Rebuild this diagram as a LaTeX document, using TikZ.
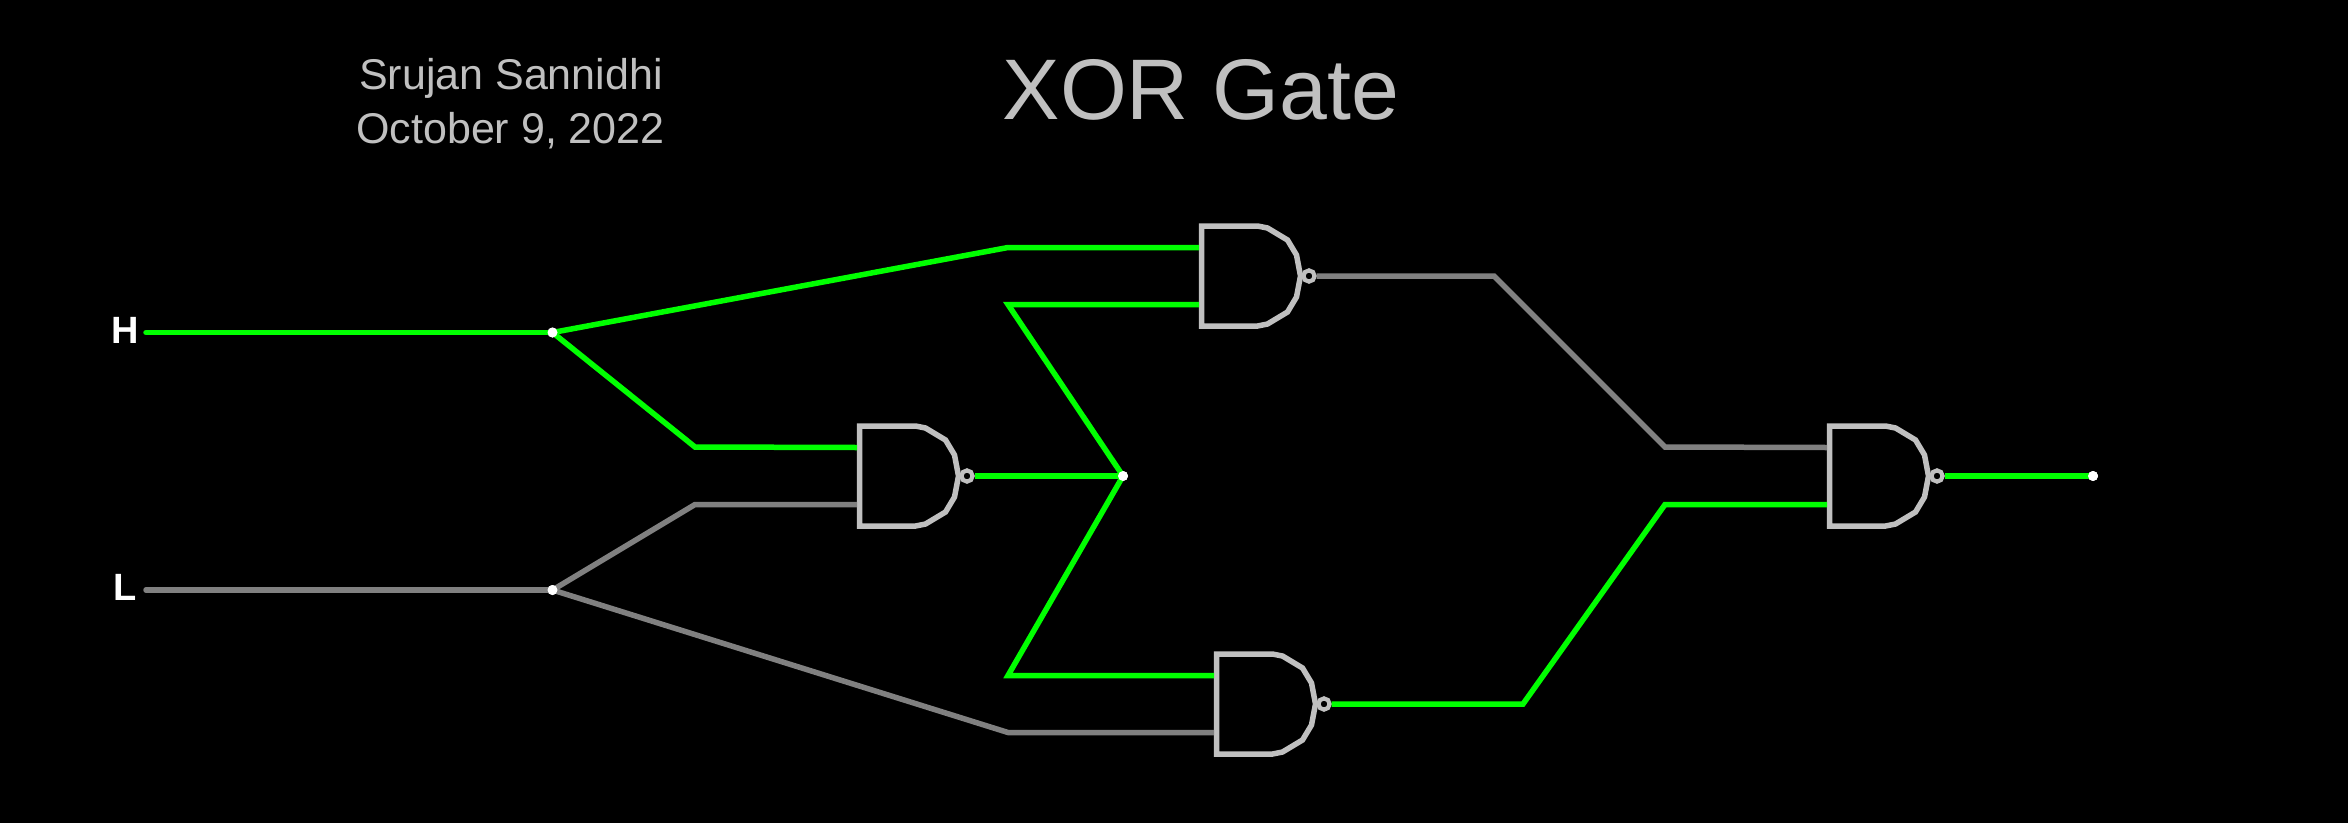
\documentclass[tikz,border=0pt]{standalone}
\usepackage{fontspec}
\setmainfont{Liberation Sans}
\definecolor{wireon}{HTML}{00FF00}
\definecolor{wireoff}{HTML}{808080}
\definecolor{gatecol}{HTML}{C0C0C0}

\tikzset{
  pics/nandgate/.style={code={
    \draw[gatecol,line width=5.5pt,fill=black] (0,-50) -- (56,-50) -- (66,-48) -- (86,-36) -- (95,-21) -- (99,0)
      -- (95,21) -- (86,36) -- (66,48) -- (56,50) -- (0,50) -- cycle;
    \draw[gatecol,line width=4.2pt] (107.5,0) circle (5.6pt);
    \coordinate (-a) at (-2.5,-28.5);
    \coordinate (-b) at (-2.5,28.5);
    \coordinate (-o) at (115,0);
  }}
}

\begin{document}
\begin{tikzpicture}[x=1pt,y=-1pt]
\tikzstyle{on}=[wireon,line width=5.5pt]
\tikzstyle{off}=[wireoff,line width=5.5pt]
\tikzstyle{dot}=[circle,fill=white,inner sep=0pt,minimum size=10pt]
\tikzstyle{txt}=[text=gatecol,anchor=base,inner sep=0pt]
\tikzstyle{pin}=[text=white,anchor=base,inner sep=0pt,font=\fontsize{38}{38}\selectfont\bfseries]

\useasboundingbox (0,0) rectangle (2348,822);
\fill[black] (-5,-5) rectangle (2353,827);

\node[txt,font=\fontsize{86}{86}\selectfont] (title) at (1201,119) {XOR Gate};
\node[txt,font=\fontsize{43}{43}\selectfont] (name) at (511,89) {Srujan Sannidhi};
\node[txt,font=\fontsize{43}{43}\selectfont] (date) at (510.5,143) {October 9, 2022};
\node[pin] (h) at (125,343.5) {H};
\node[pin] (l) at (125,600) {L};

\pic (g1) at (859.5,476) {nandgate};
\pic (g2) at (1201.5,276) {nandgate};
\pic (g3) at (1216.5,704) {nandgate};
\pic (g4) at (1829.5,476) {nandgate};

\coordinate (hs) at (146,332.5);
\coordinate (ls) at (146,590);
\coordinate (b1) at (695,447);
\coordinate (b2) at (695,504.5);
\coordinate (b3) at (1008,247.5);
\coordinate (b4) at (1008,304.5);
\coordinate (b5) at (1008,675.5);
\coordinate (b6) at (1008,732.5);
\coordinate (b7) at (1494,276);
\coordinate (b8) at (1665,447);
\coordinate (b9) at (1523,704);
\coordinate (b10) at (1665,504.5);

\node[dot] (j1) at (552.5,332.5) {};
\node[dot] (j2) at (552.5,590) {};
\node[dot] (j3) at (1123,476) {};
\node[dot] (out) at (2093,476) {};

% inputs
\draw[on,line cap=round] (hs) -- (j1.center);
\draw[off,line cap=round] (ls) -- (j2.center);
\draw[on] (j1.center) -- (b3) -- (g2-a);
\draw[on] (j1.center) -- (b1) -- (g1-a);
\draw[off] (j2.center) -- (b2) -- (g1-b);
\draw[off] (j2.center) -- (b6) -- (g3-b);

% middle gate output
\draw[on] (g1-o) -- (j3.center);
\draw[on] (j3.center) -- (b4) -- (g2-b);
\draw[on] (j3.center) -- (b5) -- (g3-a);

% to last gate
\draw[off] (g2-o) -- (b7) -- (b8) -- (g4-a);
\draw[on] (g3-o) -- (b9) -- (b10) -- (g4-b);
\draw[on] (g4-o) -- (out.center);

% dots on top of the wires
\node[dot] at (j1) {};
\node[dot] at (j2) {};
\node[dot] at (j3) {};
\node[dot] at (out) {};

\end{tikzpicture}
\end{document}
